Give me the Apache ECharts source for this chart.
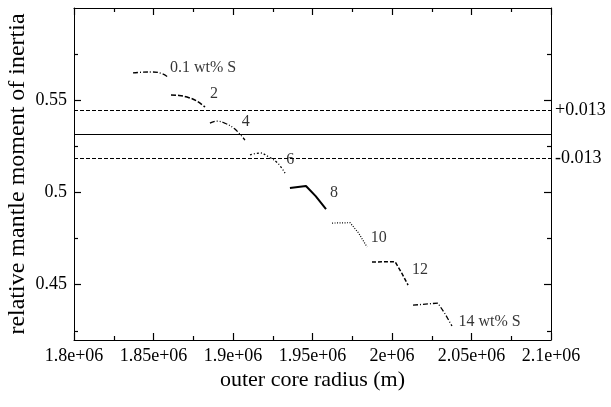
<!DOCTYPE html>
<html>
<head>
<meta charset="utf-8">
<script src="https://cdn.jsdelivr.net/npm/echarts@6/dist/echarts.min.js"></script>
<style>html,body{margin:0;padding:0;background:#fff}#c{width:611px;height:407px}</style>
</head>
<body>
<div id="c"></div>
<script>
// ---- data ----
const xTickValues = [1800000, 1850000, 1900000, 1950000, 2000000, 2050000, 2100000];
const xTickLabels = ['1.8e+06', '1.85e+06', '1.9e+06', '1.95e+06', '2e+06', '2.05e+06', '2.1e+06'];
const yTickValues = [0.45, 0.5, 0.55];
const yMinorTicks = [0.425, 0.475, 0.525, 0.575];

const seriesNames = ['0.1 wt% S', '2', '4', '6', '8', '10', '12', '14 wt% S'];
const s01 = [[1837100, 0.5648], [1843000, 0.5652], [1849700, 0.5653], [1855000, 0.5645], [1859100, 0.5626]];
const s2  = [[1861000, 0.5528], [1866000, 0.5526], [1871100, 0.5517], [1877000, 0.5497], [1882400, 0.5463]];
const s4  = [[1885500, 0.5376], [1889900, 0.5387], [1895000, 0.5375], [1901000, 0.5345], [1907500, 0.5284]];
const s6  = [[1910700, 0.5203], [1917000, 0.5214], [1922000, 0.5195], [1928000, 0.5160], [1932700, 0.5105]];
const s8  = [[1935800, 0.5024], [1945900, 0.5035], [1952000, 0.4980], [1958500, 0.4910]];
const s10 = [[1962300, 0.4834], [1973600, 0.4836], [1979000, 0.4780], [1984300, 0.4704]];
const s12 = [[1987400, 0.4623], [2001900, 0.4625], [2006000, 0.4565], [2010100, 0.4498]];
const s14 = [[2013200, 0.4389], [2028900, 0.4400], [2033500, 0.4340], [2037700, 0.4276]];

const labelX = [1860400, 1885500, 1905500, 1933500, 1961000, 1986600, 2012600, 2041800];
const labelY = [0.5675, 0.5535, 0.5385, 0.5176, 0.4998, 0.4753, 0.4579, 0.4300];

const refCenter = 0.5314;
const refOffset = 0.013;
const refLabels = ['+0.013', '-0.013'];

// ---- chart ----
const FONT = 'Liberation Serif';
const chart = echarts.init(document.getElementById('c'), null, { renderer: 'canvas' });

const curves = [s01, s2, s4, s6, s8, s10, s12, s14];
const styles = [
  { type: [5, 2, 1, 2], width: 1.3, smooth: true },
  { type: [5, 2], width: 1.5, smooth: true },
  { type: [5, 2, 1, 2, 1, 2], width: 1.3, smooth: true },
  { type: [2, 2, 1, 2], width: 1.3, smooth: true },
  { type: 'solid', width: 2, smooth: false },
  { type: [1, 1.5], width: 1.2, smooth: false },
  { type: [4, 2], width: 1.5, smooth: false },
  { type: [5, 2, 1, 2], width: 1.3, smooth: false }
];

const series = curves.map((d, i) => ({
  name: seriesNames[i],
  type: 'line',
  data: d,
  showSymbol: false,
  smooth: styles[i].smooth ? 0.4 : false,
  lineStyle: { color: '#000', width: styles[i].width, type: styles[i].type },
  silent: true
}));

series.push({
  type: 'line',
  data: [],
  markLine: {
    silent: true,
    symbol: 'none',
    precision: 4,
    lineStyle: { color: '#000', width: 1 },
    label: { show: true, position: 'end', distance: 4, color: '#000', fontFamily: FONT, fontSize: 18 },
    data: [
      { yAxis: refCenter + refOffset, lineStyle: { type: [4, 2] }, label: { formatter: refLabels[0] } },
      { yAxis: refCenter, lineStyle: { type: 'solid' }, label: { show: false } },
      { yAxis: refCenter - refOffset, lineStyle: { type: [4, 2] }, label: { formatter: refLabels[1] } }
    ]
  }
});

series.push({
  type: 'scatter',
  symbolSize: 0,
  silent: true,
  data: seriesNames.map((n, i) => [labelX[i], labelY[i], n]),
  label: {
    show: true,
    position: [0, 0],
    align: 'left',
    verticalAlign: 'middle',
    formatter: p => p.value[2],
    color: '#000',
    fontFamily: FONT,
    fontSize: 16
  }
});

function mkXAxis(pos) {
  return {
    type: 'value', min: 1800000, max: 2100000, interval: 50000, position: pos,
    axisLine: { show: true, lineStyle: { color: '#000', width: 1 } },
    splitLine: { show: false },
    axisTick: { show: true, inside: true, length: 7, lineStyle: { color: '#000', width: 1.2 } },
    minorTick: { show: true, splitNumber: 2, length: 4, lineStyle: { color: '#000', width: 1.2 } }
  };
}
function mkYMajor(pos) {
  return {
    type: 'value', min: 0.42, max: 0.6, position: pos,
    axisLine: { show: true, lineStyle: { color: '#000', width: 1 } },
    splitLine: { show: false },
    axisLabel: { show: false, customValues: yTickValues },
    axisTick: { show: true, inside: true, length: 7, customValues: yTickValues, lineStyle: { color: '#000', width: 1.2 } }
  };
}
function mkYMinor(pos) {
  return {
    type: 'value', min: 0.42, max: 0.6, position: pos,
    axisLine: { show: false }, splitLine: { show: false },
    axisLabel: { show: false, customValues: yMinorTicks },
    axisTick: { show: true, inside: true, length: 4, customValues: yMinorTicks, lineStyle: { color: '#000', width: 1.2 } }
  };
}

const xBottom = mkXAxis('bottom');
xBottom.name = 'outer core radius (m)';
xBottom.nameLocation = 'middle';
xBottom.nameGap = 29;
xBottom.nameMoveOverlap = false;
xBottom.nameTextStyle = { fontFamily: FONT, fontSize: 22, color: '#000' };
xBottom.axisLabel = {
  show: true, margin: 7, color: '#000', fontFamily: FONT, fontSize: 18,
  formatter: v => { const i = xTickValues.indexOf(v); return i >= 0 ? xTickLabels[i] : ''; }
};
const xTop = mkXAxis('top');
xTop.axisLabel = { show: false };

const yLeft = mkYMajor('left');
yLeft.name = 'relative mantle moment of inertia';
yLeft.nameLocation = 'middle';
yLeft.nameGap = 44;
yLeft.nameMoveOverlap = false;
yLeft.nameTextStyle = { fontFamily: FONT, fontSize: 24, color: '#000' };
yLeft.axisLabel = { show: true, margin: 7, color: '#000', fontFamily: FONT, fontSize: 18, customValues: yTickValues };

chart.setOption({
  animation: false,
  backgroundColor: '#fff',
  grid: { left: 74, right: 60, top: 8, bottom: 67, containLabel: false, outerBoundsMode: 'none' },
  xAxis: [xBottom, xTop],
  yAxis: [yLeft, mkYMajor('right'), mkYMinor('left'), mkYMinor('right')],
  series: series
});
</script>
</body>
</html>
